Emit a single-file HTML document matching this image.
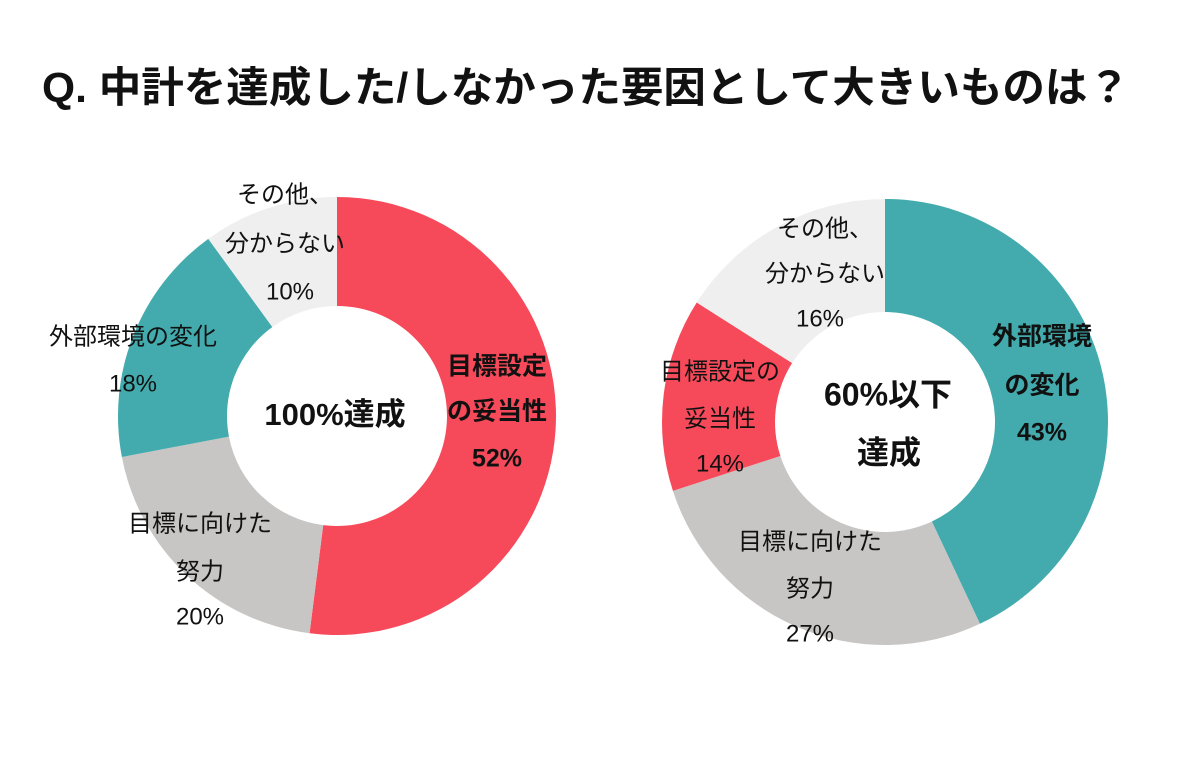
<!DOCTYPE html>
<html><head><meta charset="utf-8">
<style>
html,body{margin:0;padding:0;background:#fff;}
svg{display:block;}
text{font-family:"Liberation Sans","Noto Sans CJK JP",sans-serif;fill:#111;}
</style></head>
<body>
<svg id="s" width="1200" height="770" viewBox="0 0 1200 770">
<text x="42" y="102" font-size="42" font-weight="bold" textLength="1088" lengthAdjust="spacingAndGlyphs">Q. 中計を達成した/しなかった要因として大きいものは？</text>
<g id="d"></g>
<g font-size="24" text-anchor="middle" dominant-baseline="middle">
<text x="497" y="368" font-weight="bold" font-size="25">目標設定</text>
<text x="497" y="413" font-weight="bold" font-size="25">の妥当性</text>
<text x="497" y="460" font-weight="bold" font-size="25">52%</text>
<text x="285" y="196">その他、</text>
<text x="285" y="245">分からない</text>
<text x="290" y="293">10%</text>
<text x="133" y="338">外部環境の変化</text>
<text x="133" y="385">18%</text>
<text x="200" y="525">目標に向けた</text>
<text x="200" y="573">努力</text>
<text x="200" y="618">20%</text>
<text x="335" y="417" font-size="31" font-weight="bold">100%達成</text>

<text x="1042" y="338" font-weight="bold" font-size="25">外部環境</text>
<text x="1042" y="387" font-weight="bold" font-size="25">の変化</text>
<text x="1042" y="434" font-weight="bold" font-size="25">43%</text>
<text x="825" y="230">その他、</text>
<text x="825" y="275">分からない</text>
<text x="820" y="320">16%</text>
<text x="720" y="373">目標設定の</text>
<text x="720" y="420">妥当性</text>
<text x="720" y="465">14%</text>
<text x="810" y="543">目標に向けた</text>
<text x="810" y="590">努力</text>
<text x="810" y="635">27%</text>
<text x="888" y="397" font-size="32" font-weight="bold">60%以下</text>
<text x="889" y="455" font-size="32" font-weight="bold">達成</text>
</g>
</svg>
<script>
(function(){
var g=document.getElementById('d');
function donut(cx,cy,R,r,segs){
 var a=0;
 segs.forEach(function(s){
  var a0=a*2*Math.PI/100-Math.PI/2; a+=s[0]; var a1=a*2*Math.PI/100-Math.PI/2;
  var lg=s[0]>50?1:0;
  var p='M'+(cx+R*Math.cos(a0))+' '+(cy+R*Math.sin(a0))+
   ' A'+R+' '+R+' 0 '+lg+' 1 '+(cx+R*Math.cos(a1))+' '+(cy+R*Math.sin(a1))+
   ' L'+(cx+r*Math.cos(a1))+' '+(cy+r*Math.sin(a1))+
   ' A'+r+' '+r+' 0 '+lg+' 0 '+(cx+r*Math.cos(a0))+' '+(cy+r*Math.sin(a0))+' Z';
  var e=document.createElementNS('http://www.w3.org/2000/svg','path');
  e.setAttribute('d',p);e.setAttribute('fill',s[1]);g.appendChild(e);
 });
}
donut(337,416,219,110,[[52,'#F64A5A'],[20,'#C8C6C5'],[18,'#43ABAD'],[10,'#EFEFEF']]);
donut(885,422,223,110,[[43,'#43ABAD'],[27,'#C8C6C5'],[14,'#F64A5A'],[16,'#EFEFEF']]);
})();
</script>
</body></html>
